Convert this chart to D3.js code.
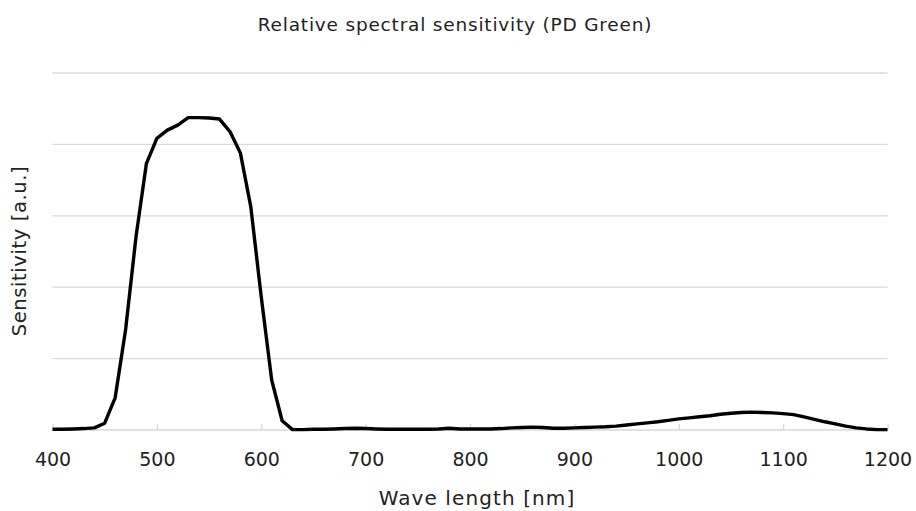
<!DOCTYPE html>
<html>
<head>
<meta charset="utf-8">
<script src="https://cdn.jsdelivr.net/npm/d3@7"></script>
<style>
  body { margin: 0; background: #fff; }
  svg { display: block; font-family: "DejaVu Sans", Verdana, sans-serif; }
</style>
</head>
<body>
<svg width="916" height="511"></svg>
<script>
// wavelengths every 10 nm, 400..1200
const wavelengths = d3.range(400, 1201, 10);
const sensitivity = [
    0.002, 0.002, 0.003, 0.004, 0.006, 0.019, 0.090, 0.280, 0.541, 0.747,
    0.817, 0.840, 0.854, 0.875, 0.875, 0.874, 0.871, 0.836, 0.776, 0.625,
    0.373, 0.140, 0.026, 0.001, 0.001, 0.002, 0.002, 0.003, 0.004, 0.005,
    0.004, 0.003, 0.002, 0.002, 0.002, 0.002, 0.002, 0.003, 0.005, 0.003,
    0.003, 0.003, 0.003, 0.004, 0.006, 0.007, 0.008, 0.007, 0.005, 0.005,
    0.006, 0.007, 0.008, 0.009, 0.011, 0.014, 0.017, 0.020, 0.023, 0.027,
    0.031, 0.034, 0.037, 0.040, 0.044, 0.047, 0.049, 0.050, 0.049, 0.048,
    0.046, 0.043, 0.037, 0.030, 0.023, 0.017, 0.011, 0.006, 0.003, 0.001,
    0.001
];
const xTicks = [400, 500, 600, 700, 800, 900, 1000, 1100, 1200];
const yGrid = [0, 0.2, 0.4, 0.6, 0.8, 1.0];

const title = "Relative spectral sensitivity (PD Green)";
const xLabel = "Wave length [nm]";
const yLabel = "Sensitivity [a.u.]";

let data = wavelengths.map((w, i) => ({ x: w, y: sensitivity[i] }));

let svg = d3.select("svg");

const area = { left: 52.5, right: 887.5, top: 73, bottom: 430 };

let scX = d3.scaleLinear().domain([400, 1200]).range([area.left, area.right]);
let scY = d3.scaleLinear().domain([0, 1]).range([area.bottom, area.top]);

// horizontal gridlines
svg.append("g")
    .selectAll("line")
    .data(yGrid)
    .enter()
    .append("line")
    .attr("x1", area.left)
    .attr("x2", area.right)
    .attr("y1", d => scY(d))
    .attr("y2", d => scY(d))
    .style("stroke", "#d9d9d9")
    .style("stroke-width", 1.3);

// x axis (ticks pointing inward)
let axisX = d3.axisBottom(scX)
    .tickValues(xTicks)
    .tickSizeInner(-6)
    .tickSizeOuter(0)
    .tickPadding(23)
    .tickFormat(d3.format("d"));

let gx = svg.append("g")
    .attr("transform", `translate(0, ${area.bottom})`)
    .call(axisX);
gx.select(".domain").remove();
gx.selectAll("line").style("stroke", "#d9d9d9").style("stroke-width", 1.3);
gx.selectAll("text")
    .style("font-size", "19px")
    .style("font-family", "'DejaVu Sans', Verdana, sans-serif")
    .style("fill", "#222");

// curve
let line = d3.line()
    .x(d => scX(d.x))
    .y(d => scY(d.y));

svg.append("path")
    .datum(data)
    .attr("fill", "none")
    .style("stroke", "#000")
    .attr("stroke-width", 3.4)
    .attr("stroke-linejoin", "round")
    .attr("d", line);

// titles
svg.append("text")
    .attr("x", 455)
    .attr("y", 31)
    .attr("text-anchor", "middle")
    .style("font-size", "18.5px")
    .style("letter-spacing", "0.8px")
    .style("fill", "#222")
    .text(title);

svg.append("text")
    .attr("x", 477)
    .attr("y", 505)
    .attr("text-anchor", "middle")
    .style("font-size", "20px")
    .style("letter-spacing", "1.1px")
    .style("fill", "#222")
    .text(xLabel);

svg.append("text")
    .attr("transform", `translate(26, 251) rotate(-90)`)
    .attr("text-anchor", "middle")
    .style("font-size", "19.5px")
    .style("letter-spacing", "0.6px")
    .style("fill", "#222")
    .text(yLabel);
</script>
</body>
</html>
